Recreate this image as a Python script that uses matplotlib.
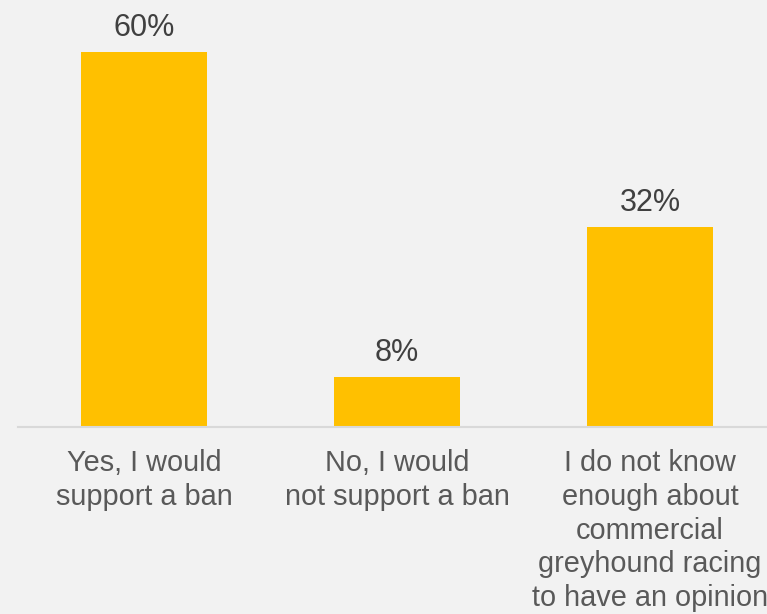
import matplotlib.pyplot as plt

categories = ['Yes, I would\nsupport a ban',
              'No, I would\nnot support a ban',
              'I do not know\nenough about\ncommercial\ngreyhound racing\nto have an opinion']
values = [60, 8, 32]
labels = ['60%', '8%', '32%']

plt.rcParams['font.family'] = ['Liberation Sans', 'DejaVu Sans']

bg = '#f2f2f2'
fig = plt.figure(figsize=(7.67, 6.14), dpi=100, facecolor=bg)
ax = fig.add_axes([17.5 / 767, 187 / 614, 759 / 767, 375 / 614])
ax.set_facecolor(bg)

x = list(range(len(values)))
ax.bar(x, values, width=0.5, color='#ffc000', zorder=2)
ax.set_xlim(-0.5, 2.5)
ax.set_ylim(0, 60)

# value labels above bars
for xi, v, lab in zip(x, values, labels):
    ax.annotate(lab, (xi, v), xytext=(0, 6.5), textcoords='offset points',
                ha='center', va='bottom', fontsize=22, color='#404040',
                annotation_clip=False)

# category labels under the baseline
for xi, cat in zip(x, categories):
    ax.annotate(cat, (xi, 0), xytext=(0, -16), textcoords='offset points',
                ha='center', va='top', fontsize=20.8, color='#595959',
                linespacing=1.26, annotation_clip=False)

ax.axhline(0, color='#d9d9d9', lw=1.5, zorder=3, clip_on=False)
for s in ax.spines.values():
    s.set_visible(False)
ax.set_xticks([])
ax.set_yticks([])

fig.savefig('out.png', dpi=100, facecolor=bg)
